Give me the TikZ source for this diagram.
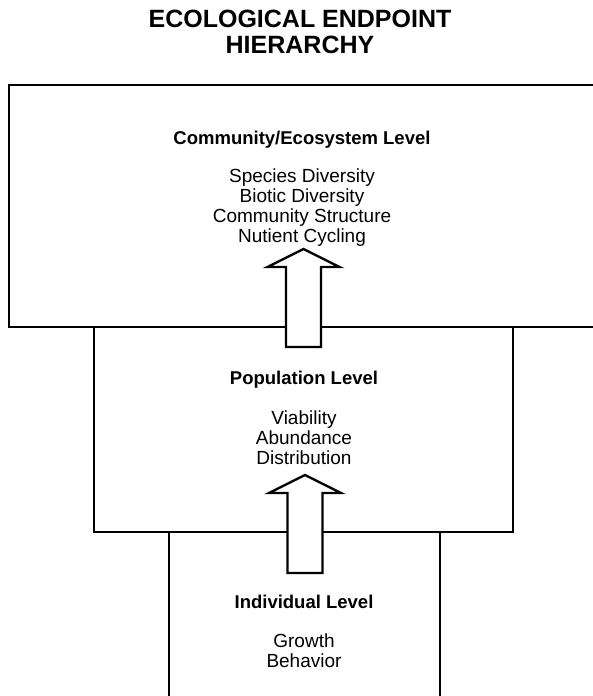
\documentclass[tikz,border=0pt]{standalone}
\usepackage{fontspec}
\setmainfont{Liberation Sans}
\begin{document}
\begin{tikzpicture}[x=1pt,y=-1pt,
  levelbox/.style={draw=black,line width=2pt},
  title/.style={font=\bfseries\fontsize{25}{26}\selectfont,align=center,inner sep=0pt,anchor=north},
  levelname/.style={font=\bfseries\fontsize{18.5}{20}\selectfont,inner sep=0pt,anchor=base},
  items/.style={font=\fontsize{19}{20}\selectfont,align=center,inner sep=0pt,anchor=north},
  arrowline/.style={draw=black,fill=white,line width=2.4pt,line join=miter},
  pics/uparrow/.style={code={
    \path[arrowline] (-17.5,0) -- (-17.5,-80) -- (-36,-80) -- (0,-98)
      -- (36,-80) -- (17.5,-80) -- (17.5,0) -- cycle;}}]
\useasboundingbox (0,0) rectangle (592,696);

% title
\node[title] (ttl) at (300,10) {ECOLOGICAL ENDPOINT\\HIERARCHY};

% the three levels, widest on top; the outer ones run off the page edge
\draw[levelbox] (600,85) -- (9,85) -- (9,327) -- (600,327);
\draw[levelbox] (94,327) -- (94,532) -- (513,532) -- (513,327);
\draw[levelbox] (169,532) -- (169,700);
\draw[levelbox] (440,532) -- (440,700);

% community / ecosystem level
\node[levelname] (comm) at (302,144) {Community/Ecosystem Level};
\node[items] (commitems) at (302,169) {Species Diversity\\Biotic Diversity\\Community Structure\\Nutient Cycling};

% population level
\node[levelname] (pop) at (304,384) {Population Level};
\node[items] (popitems) at (304,411) {Viability\\Abundance\\Distribution};

% individual level
\node[levelname] (ind) at (304,608) {Individual Level};
\node[items] (inditems) at (304,634) {Growth\\Behavior};

% block arrows leading up from one level to the next
\coordinate (up1) at (303.5,347);
\coordinate (up2) at (305,573);
\pic at (up1) {uparrow};
\pic at (up2) {uparrow};
\end{tikzpicture}
\end{document}
